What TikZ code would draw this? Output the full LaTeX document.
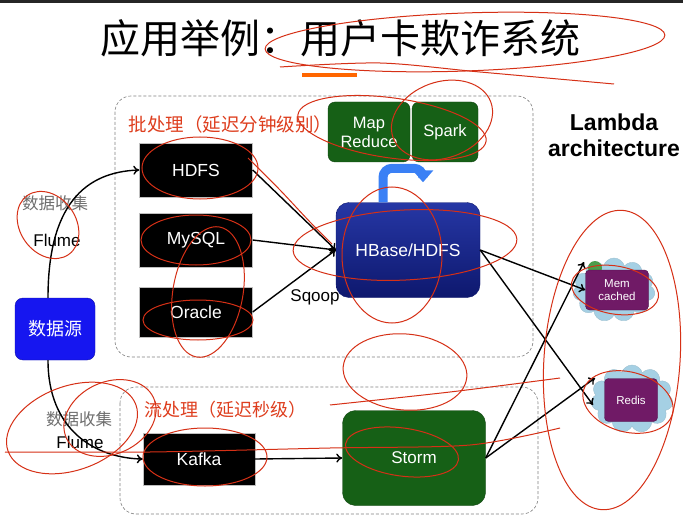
\documentclass[tikz,border=0pt]{standalone}
\usepackage{fontspec}
\setmainfont{Liberation Sans}
\newfontfamily\cjk{Noto Sans CJK SC}
\usepackage{tikz}
\usetikzlibrary{shapes.symbols,arrows.meta}

\definecolor{slidered}{RGB}{222,62,30}
\definecolor{inkred}{RGB}{214,48,22}
\definecolor{boxgreen}{RGB}{22,96,22}
\definecolor{srcblue}{RGB}{22,22,240}
\definecolor{hbtop}{RGB}{38,55,165}
\definecolor{hbbot}{RGB}{14,24,110}
\definecolor{cachepurple}{RGB}{112,26,102}
\definecolor{cloudblue}{RGB}{165,208,228}
\definecolor{turnblue}{RGB}{58,128,245}
\definecolor{labelgray}{RGB}{110,110,110}

\begin{document}
\begin{tikzpicture}[x=1pt,y=-1pt,
        store/.style={draw=gray!50,fill=black,text=white,minimum width=113pt,minimum height=54pt,font=\fontsize{17.5}{19}\selectfont},
        engine/.style={draw=boxgreen!70!black,fill=boxgreen,text=white,rounded corners=7pt,align=center,font=\fontsize{16.5}{19}\selectfont},
        cache/.style={draw=cachepurple!70!black,fill=cachepurple,text=white,rounded corners=4pt,align=center,font=\fontsize{11.5}{13}\selectfont},
        puff/.style={cloud,cloud puffs=11,aspect=1.4,fill=cloudblue,draw=cloudblue!80!gray},
        frame/.style={draw=gray,densely dashed,rounded corners=16pt,line width=0.6pt},
        link/.style={-{To[length=6pt,width=9pt]},line width=1.4pt},
        ink/.style={draw=inkred,line width=1pt}]
        % page
        \useasboundingbox (0,0) rectangle (683,516);
        \fill[white] (0,0) rectangle (683,516);
        \fill[black!85] (0,0) rectangle (683,3);
        \node (title) at (340,38) {\cjk\fontsize{40}{42}\selectfont 应用举例：用户卡欺诈系统};
        \fill[orange!80!red] (302,73) rectangle (357,77);

        % frames
        \draw[frame] (115,96) rectangle (533,357);
        \draw[frame] (120,387) rectangle (538,514);
        \node[anchor=west,text=slidered] (batchlbl) at (125,124) {\cjk\fontsize{18.5}{20}\selectfont 批处理（延迟分钟级别）};
        \node[anchor=west,text=slidered] (streamlbl) at (141,410) {\cjk\fontsize{18}{20}\selectfont 流处理（延迟秒级）};

        % nodes
        \node[draw=srcblue!70!black,fill=srcblue,text=white,rounded corners=8pt,minimum width=80pt,minimum height=62pt] (src) at (55,329) {\cjk\fontsize{18}{20}\selectfont 数据源};
        \node[store] (hdfs) at (196,170) {HDFS};
        \node[store] (mysql) at (196,240) {MySQL};
        \node[store,minimum height=50pt] (oracle) at (196,312) {Oracle};
        \node[store,minimum width=112pt,minimum height=52pt] (kafka) at (199,459) {Kafka};
        \node[engine,minimum width=82pt,minimum height=60pt] (mapred) at (369,132) {Map\\Reduce};
        \node[engine,minimum width=66pt,minimum height=60pt] (spark) at (445,132) {Spark};
        \node[draw=hbbot,top color=hbtop,bottom color=hbbot,text=white,rounded corners=13pt,minimum width=144pt,minimum height=95pt,font=\fontsize{17.5}{19}\selectfont] (hbase) at (408,250) {HBase/HDFS};
        \node[engine,rounded corners=13pt,minimum width=143pt,minimum height=95pt,font=\fontsize{17}{19}\selectfont] (storm) at (414,458) {Storm};
        \node[puff,minimum width=82pt,minimum height=64pt] (memcloud) at (614,290) {};
        \node[puff,minimum width=82pt,minimum height=68pt] (rediscloud) at (632,399) {};
        \fill[green!45!black!70] (595,268) circle (7pt);
        \node[cache,minimum width=63pt,minimum height=40pt] (memc) at (617,290) {Mem\\cached};
        \node[cache,minimum width=53pt,minimum height=43pt] (redis) at (631,400) {Redis};

        % labels
        \node[text=labelgray] (collect1) at (55,203) {\cjk\fontsize{16.5}{18}\selectfont 数据收集};
        \node (flume1) at (57,240) {\fontsize{17}{19}\selectfont Flume};
        \node[text=labelgray] (collect2) at (79,419) {\cjk\fontsize{16.5}{18}\selectfont 数据收集};
        \node (flume2) at (80,442) {\fontsize{17}{19}\selectfont Flume};
        \node (sqoop) at (315,297) {\fontsize{17}{19}\selectfont Sqoop};
        \node[align=center,font=\bfseries\fontsize{23}{26}\selectfont] (lambda) at (614,135) {Lambda\\architecture};

        % connectors
        \draw[link] ([xshift=-7pt]src.north) .. controls (48,205) and (85,172) .. (hdfs.west);
        \draw[link] ([xshift=-7pt]src.south) .. controls (48,430) and (95,458) .. (kafka.west);
        \foreach \s in {hdfs,mysql,oracle}
                \draw[link] (\s.east) -- (hbase.west);
        \draw[link] (kafka.east) -- (storm.west);
        \draw[link] (hbase.east) -- (memc.west);
        \draw[link] (hbase.east) -- ([xshift=-38pt,yshift=-5pt]redis.center);
        \draw[link] (storm.east) -- ([xshift=-33pt,yshift=28pt]memc.center);
        \draw[link] (storm.east) -- ([xshift=-36pt,yshift=22pt]redis.center);
        \draw[turnblue,line width=9pt,rounded corners=9pt,-{Triangle[length=12pt,width=20pt]}]
                ([xshift=-25pt]hbase.north) -- ++(0,-34) -- ++(40,0) -- ++(0,14);

        % red ink
        \draw[ink,rotate around={2:(465,42)}] (465,42) ellipse [x radius=200pt,y radius=29pt];
        \draw[ink] plot[smooth] coordinates {(280,67) (380,63) (480,72) (614,84)};
        \draw[ink,rotate around={-8:(392,128)}] (392,128) ellipse [x radius=95pt,y radius=30pt];
        \draw[ink,rotate around={20:(442,120)}] (442,120) ellipse [x radius=52pt,y radius=38pt];
        \draw[ink] (200,168) ellipse [x radius=58pt,y radius=31pt];
        \draw[ink] plot[smooth] coordinates {(248,158) (280,190) (310,222) (332,244)};
        \draw[ink] (196,240) ellipse [x radius=55pt,y radius=25pt];
        \draw[ink,rotate around={-10:(208,292)}] (208,292) ellipse [x radius=35pt,y radius=66pt];
        \draw[ink] (198,320) ellipse [x radius=55pt,y radius=20pt];
        \draw[ink,rotate around={35:(48,225)}] (48,225) ellipse [x radius=28pt,y radius=36pt];
        \draw[ink,rotate around={3:(405,245)}] (405,245) ellipse [x radius=112pt,y radius=35pt];
        \draw[ink] (392,255) ellipse [x radius=50pt,y radius=68pt];
        \draw[ink] (205,457) ellipse [x radius=62pt,y radius=29pt];
        \draw[ink,rotate around={-8:(402,452)}] (402,452) ellipse [x radius=57pt,y radius=24pt];
        \draw[ink,rotate around={20:(72,428)}] (72,428) ellipse [x radius=68pt,y radius=42pt];
        \draw[ink,rotate around={25:(110,418)}] (110,418) ellipse [x radius=48pt,y radius=36pt];
        \draw[ink] plot[smooth] coordinates {(5,452) (150,452) (330,448) (470,445) (560,428)};
        \draw[ink] plot[smooth] coordinates {(330,405) (450,392) (560,378)};
        \draw[ink,rotate around={-5:(405,372)}] (405,372) ellipse [x radius=62pt,y radius=38pt];
        \draw[ink,rotate around={-4:(612,360)}] (612,360) ellipse [x radius=68pt,y radius=150pt];
        \draw[ink,rotate around={-10:(615,290)}] (615,290) ellipse [x radius=44pt,y radius=24pt];
        \draw[ink,rotate around={-15:(628,402)}] (628,402) ellipse [x radius=46pt,y radius=30pt];
\end{tikzpicture}
\end{document}
